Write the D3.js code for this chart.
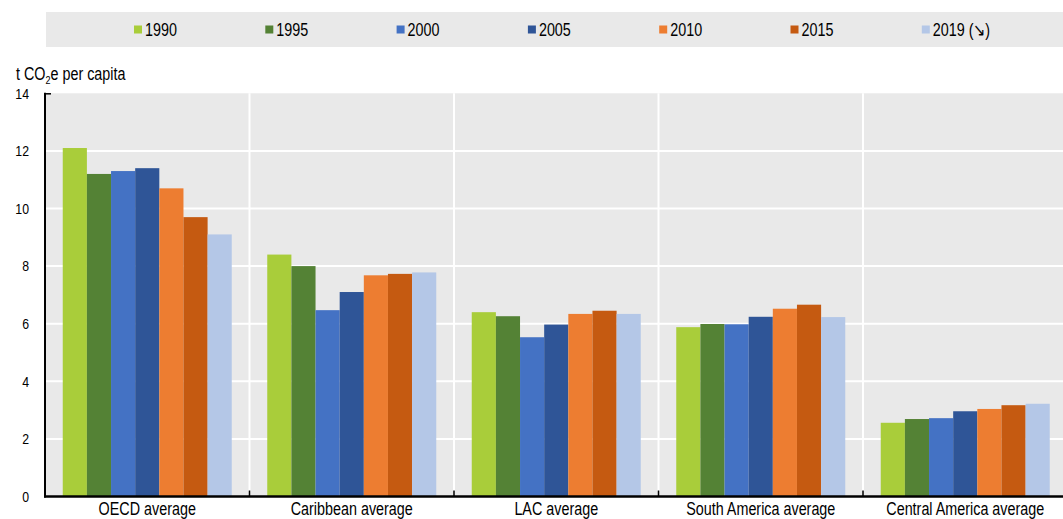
<!DOCTYPE html>
<html><head><meta charset="utf-8">
<script src="https://cdn.jsdelivr.net/npm/d3@7"></script>
<style>
body{margin:0;background:#fff}
svg{display:block}
text{font-family:'Liberation Sans',Arial,sans-serif;fill:#000}
</style>
</head><body><svg id="c" width="1063" height="519"></svg>
<script>
const categories = ["OECD average","Caribbean average","LAC average","South America average","Central America average"];
const years = ["1990","1995","2000","2005","2010","2015","2019"];
const legendLabels = ["1990","1995","2000","2005","2010","2015","2019 (\u2198)"];
const colors = ["#a9cd3a","#548235","#4472c4","#2f5597","#ed7d31","#c55a11","#b4c7e7"];
const v1990 = [12.1, 8.4, 6.4, 5.88, 2.56];
const v1995 = [11.2, 8.0, 6.26, 5.99, 2.69];
const v2000 = [11.3, 6.47, 5.53, 5.98, 2.72];
const v2005 = [11.4, 7.1, 5.97, 6.24, 2.96];
const v2010 = [10.7, 7.68, 6.34, 6.52, 3.04];
const v2015 = [9.7, 7.73, 6.45, 6.66, 3.17];
const v2019 = [9.1, 7.78, 6.34, 6.23, 3.22];
const series = [v1990, v1995, v2000, v2005, v2010, v2015, v2019];
const yTicks = [0, 2, 4, 6, 8, 10, 12, 14];

const NARROW = 0.82; // emulate a narrow sans face
const svg = d3.select("#c");
const L = 45, R = 1067.5, T = 93.3, B = 496.5;
const y = d3.scaleLinear().domain([0, 14]).range([B, T]);
const x0 = d3.scaleBand().domain(categories).range([L, R]).padding(0);
const bw = x0.bandwidth();
const gpad = bw * 0.0868;
const x1 = d3.scaleBand().domain(years).range([gpad, bw - gpad]).padding(0);
const bg = "#e9e9e9";

// legend
const lg = svg.append("g");
lg.append("rect").attr("x", 46).attr("y", 12).attr("width", 1030).attr("height", 35).attr("fill", bg);
const lx = d3.scalePoint().domain(years).range([134, 134 + 6 * 131.3]);
years.forEach((yr, i) => {
  lg.append("rect").attr("x", lx(yr)).attr("y", 25.5).attr("width", 8).attr("height", 8).attr("fill", colors[i]);
  lg.append("g").attr("transform", `translate(${lx(yr) + 11},36) scale(${NARROW},1)`)
    .append("text").attr("font-size", 17.5).text(legendLabels[i]);
});

// plot bg
svg.append("rect").attr("x", L).attr("y", T).attr("width", R - L).attr("height", B - T).attr("fill", bg);

// horizontal grid
svg.append("g").selectAll("line").data(yTicks.filter(d => d > 0 && d < 14)).join("line")
  .attr("x1", L).attr("x2", R).attr("y1", d => y(d)).attr("y2", d => y(d))
  .attr("stroke", "#fff").attr("stroke-width", 2);
// vertical separators
const seps = categories.slice(1).map(c => x0(c));
svg.append("g").selectAll("line").data(seps).join("line")
  .attr("x1", d => d).attr("x2", d => d).attr("y1", T).attr("y2", B - 5)
  .attr("stroke", "#fff").attr("stroke-width", 2);

// bars
years.forEach((yr, i) => {
  svg.append("g").selectAll("rect").data(series[i]).join("rect")
    .attr("x", (d, j) => x0(categories[j]) + x1(yr))
    .attr("width", x1.bandwidth())
    .attr("y", d => y(d))
    .attr("height", d => y(0) - y(d))
    .attr("fill", colors[i]);
});

// axes lines
svg.append("line").attr("x1", L).attr("x2", L).attr("y1", T - 0.5).attr("y2", B + 1).attr("stroke", "#000").attr("stroke-width", 2);
svg.append("line").attr("x1", L - 1).attr("x2", L + 6).attr("y1", T + 0.5).attr("y2", T + 0.5).attr("stroke", "#000").attr("stroke-width", 1.5);
svg.append("line").attr("x1", L - 1).attr("x2", 1063).attr("y1", B).attr("y2", B).attr("stroke", "#000").attr("stroke-width", 2.5);
svg.append("g").selectAll("line").data(seps).join("line")
  .attr("x1", d => d).attr("x2", d => d).attr("y1", B - 6).attr("y2", B)
  .attr("stroke", "#000").attr("stroke-width", 1.5);

// y axis labels
const ya = svg.append("g").attr("transform", `translate(${L},0)`)
  .call(d3.axisLeft(y).tickValues(yTicks).tickSize(0).tickPadding(16).tickFormat(d3.format("d")));
ya.select(".domain").remove();
ya.attr("font-family", null).attr("font-size", null);
ya.selectAll("text").attr("font-size", 15).attr("x", -16 / NARROW).attr("transform", `scale(${NARROW},1)`);

// x axis labels
const xa = svg.append("g").attr("transform", `translate(0,${B})`)
  .call(d3.axisBottom(x0).tickSize(0).tickPadding(6));
xa.select(".domain").remove();
xa.attr("font-family", null).attr("font-size", null);
xa.selectAll("text").attr("font-size", 17.5).attr("dy", "0.71em").attr("transform", `scale(${NARROW},1)`);

// y title
const yt = svg.append("g").attr("transform", `translate(16,80) scale(${NARROW},1)`)
  .append("text").attr("font-size", 17.5);
yt.append("tspan").text("t CO");
yt.append("tspan").attr("font-size", 11).attr("dy", 4).text("2");
yt.append("tspan").attr("dy", -4).text("e per capita");
</script></body></html>
